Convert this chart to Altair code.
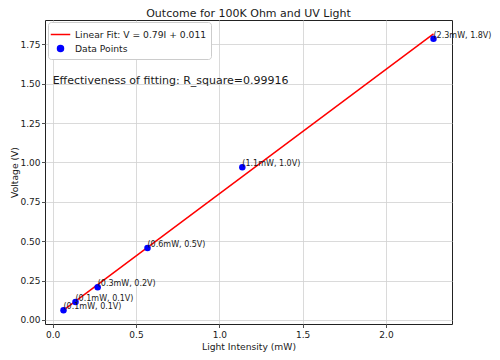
import altair as alt
import pandas as pd

# Data
intensity = [0.065, 0.137, 0.270, 0.569, 1.138, 2.285]
voltage = [0.062, 0.114, 0.207, 0.456, 0.969, 1.785]
point_labels = ["(0.1mW, 0.1V)", "(0.1mW, 0.1V)", "(0.3mW, 0.2V)",
                "(0.6mW, 0.5V)", "(1.1mW, 1.0V)", "(2.3mW, 1.8V)"]
fit_intensity = [0.065, 2.285]
fit_voltage = [0.062, 1.816]
fit_label = "Linear Fit: V = 0.79I + 0.011"
points_label = "Data Points"
series_names = [fit_label, points_label]
series_colors = ["red", "blue"]
note_text = ["Effectiveness of fitting: R_square=0.99916"]
note_x = [0.0]
note_y = [1.5]

x_ticks = [0.0, 0.5, 1.0, 1.5, 2.0]
y_ticks = [0.0, 0.25, 0.5, 0.75, 1.0, 1.25, 1.5, 1.75]

FONT = "DejaVu Sans"
TXT = "#1a1a1a"

pts = pd.DataFrame({"I": intensity, "V": voltage, "label": point_labels})
fit = pd.DataFrame({"I": fit_intensity, "V": fit_voltage})
note = pd.DataFrame({"I": note_x, "V": note_y, "text": note_text})
# legend carrier (invisible marks) - one row per legend entry
leg = pd.DataFrame({"I": [intensity[0]] * 2, "V": [voltage[0]] * 2,
                    "series": series_names})

xscale = alt.Scale(domain=[-0.046, 2.396], nice=False, zero=False)
yscale = alt.Scale(domain=[-0.026, 1.904], nice=False, zero=False)

xaxis = alt.Axis(title="Light Intensity (mW)", values=x_ticks, format=".1f",
                 grid=True, domain=False)
yaxis = alt.Axis(title="Voltage (V)", values=y_ticks, format=".2f",
                 grid=True, domain=False)

legend = alt.Legend(
    title=None, orient="none", legendX=3, legendY=2,
    fillColor="white", strokeColor="#cccccc", cornerRadius=3, padding=4,
    labelFont=FONT, labelFontSize=9.2, labelColor=TXT, labelOffset=6,
    symbolOpacity=1, symbolStrokeWidth=1.5, rowPadding=2,
)

line = alt.Chart(fit).mark_line(strokeWidth=1.5, color="red").encode(
    x=alt.X("I:Q", scale=xscale, axis=xaxis),
    y=alt.Y("V:Q", scale=yscale, axis=yaxis),
)

points = alt.Chart(pts).mark_point(filled=True, size=42, opacity=1,
                                   color="blue").encode(
    x=alt.X("I:Q", scale=xscale),
    y=alt.Y("V:Q", scale=yscale),
)

ghost = alt.Chart(leg).mark_point(filled=False, fill="blue", opacity=0).encode(
    x=alt.X("I:Q", scale=xscale),
    y=alt.Y("V:Q", scale=yscale),
    color=alt.Color("series:N", scale=alt.Scale(domain=series_names,
                                                range=series_colors),
                    legend=legend),
    shape=alt.Shape("series:N", scale=alt.Scale(domain=series_names,
                                                range=["M-1.3,0H1.3", "circle"]),
                    legend=legend),
    size=alt.Size("series:N", scale=alt.Scale(domain=series_names,
                                              range=[225, 36]),
                  legend=legend),
)

labels = alt.Chart(pts).mark_text(align="left", baseline="middle", dy=-3,
                                  font=FONT, fontSize=8, color=TXT).encode(
    x=alt.X("I:Q", scale=xscale),
    y=alt.Y("V:Q", scale=yscale),
    text="label:N",
)

note_mark = alt.Chart(note).mark_text(align="left", baseline="alphabetic",
                                      font=FONT, fontSize=11, color=TXT).encode(
    x=alt.X("I:Q", scale=xscale),
    y=alt.Y("V:Q", scale=yscale),
    text="text:N",
)

chart = alt.layer(line, points, labels, note_mark, ghost).properties(
    width=407, height=304,
    title=alt.TitleParams("Outcome for 100K Ohm and UV Light", font=FONT,
                          fontSize=11, fontWeight="normal", color=TXT, offset=1),
    autosize=alt.AutoSizeParams(type="none"),
    padding={"left": 37, "top": 12, "right": 40, "bottom": 28},
).configure_view(
    stroke="#222222", strokeWidth=1
).configure_axis(
    labelFont=FONT, labelFontSize=9, labelColor=TXT,
    titleFont=FONT, titleFontSize=9.2, titleColor=TXT, titleFontWeight="normal",
    tickColor="#222222", tickSize=3.5, tickWidth=0.8,
    gridColor="#d0d0d0", gridWidth=0.8, labelPadding=1.5,
).configure_axisX(titlePadding=3, labelPadding=2.5).configure_axisY(titlePadding=0)

chart.save("out.html", embed_options={"renderer": "svg", "actions": False})
